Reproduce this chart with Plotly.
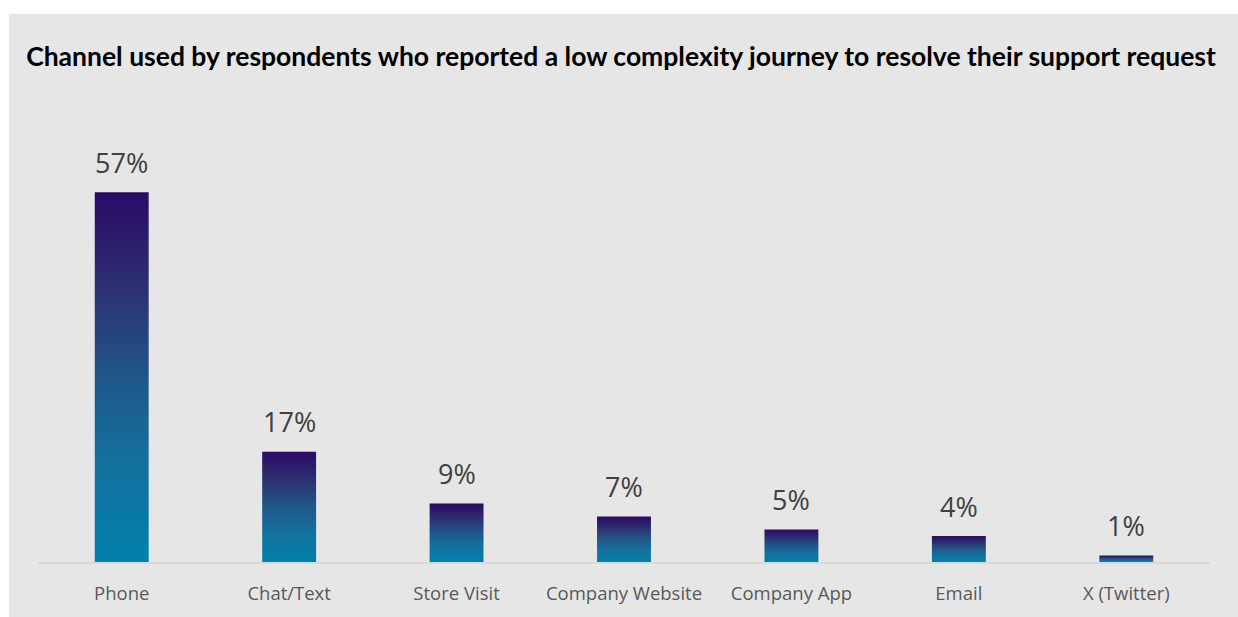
import plotly.graph_objects as go

categories = ["Phone", "Chat/Text", "Store Visit", "Company Website", "Company App", "Email", "X (Twitter)"]
values = [57, 17, 9, 7, 5, 4, 1]
labels = ["57%", "17%", "9%", "7%", "5%", "4%", "1%"]

title = "Channel used by respondents who reported a low complexity journey to resolve their support request"

W, H = 1238, 617
ML, MR, MT, MB = 38, 28, 110, 45
PW, PH = W - ML - MR, H - MT - MB

BAR_HALF = 0.161
grad = [[0.0, "#0280aa"], [0.25, "#12729f"], [0.5, "#1f5789"], [0.75, "#2c2f70"], [1.0, "#2b0a68"]]

fig = go.Figure()
for i, (c, v) in enumerate(zip(categories, values)):
    fig.add_trace(go.Scatter(
        x=[i - BAR_HALF, i + BAR_HALF, i + BAR_HALF, i - BAR_HALF, i - BAR_HALF],
        y=[0, 0, v, v, 0],
        mode="lines", fill="toself",
        line=dict(width=0, color="rgba(0,0,0,0)"),
        fillgradient=dict(type="vertical", colorscale=grad),
        hoverinfo="skip", showlegend=False, name=c,
    ))

for i, (v, t) in enumerate(zip(values, labels)):
    fig.add_annotation(x=i, y=v, text=t, showarrow=False, yanchor="middle", yshift=30,
                       font=dict(family="Open Sans", size=27, color="#404040"))

# gray panel
fig.add_shape(type="rect", xref="paper", yref="paper",
              x0=(9 - ML) / PW, x1=(W + 20 - ML) / PW,
              y0=-0.3, y1=(H - MB - 12) / PH,
              fillcolor="#e6e6e6", line=dict(width=0), layer="below")

fig.update_layout(
    width=W, height=H,
    margin=dict(l=ML, r=MR, t=MT, b=MB, pad=0),
    paper_bgcolor="white", plot_bgcolor="rgba(0,0,0,0)",
    title=dict(text="<b>" + title + "</b>", x=621 / W, xanchor="center", y=1 - 57 / H, yanchor="middle",
               font=dict(family="Lato", size=26.5, color="#000000")),
    xaxis=dict(range=[-0.5, 6.5], tickvals=list(range(len(categories))), ticktext=categories,
               showgrid=False, zeroline=False, showline=True, linecolor="#d9d9d9", linewidth=2,
               ticks="", ticklabelstandoff=14,
               tickfont=dict(family="Open Sans", size=18.5, color="#595959"), fixedrange=True),
    yaxis=dict(range=[0, PH / 6.63], visible=False, fixedrange=True),
    showlegend=False,
)

fig.write_html("out.html", config={"displayModeBar": False},
               post_script="document.body.style.margin='0';document.body.style.overflow='hidden';")
